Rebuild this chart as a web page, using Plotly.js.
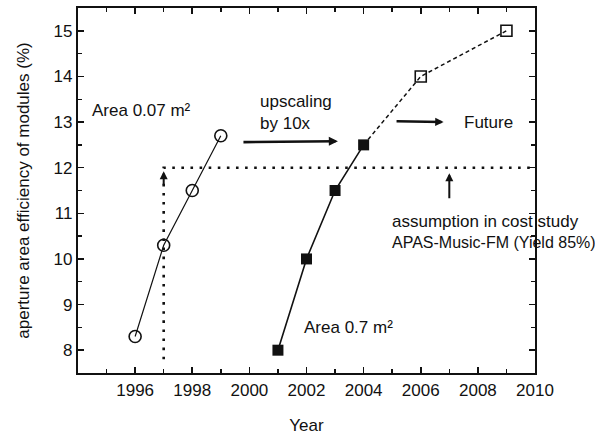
<!DOCTYPE html>
<html>
<head>
<meta charset="utf-8">
<script src="https://cdn.plot.ly/plotly-3.0.1.min.js"></script>
<style>html,body{margin:0;padding:0;background:#fff;}#chart{width:595px;height:435px;}</style>
</head>
<body>
<div id="chart"></div>
<script>
// Data
const yearsSmall = [1996, 1997, 1998, 1999];
const effSmall = [8.3, 10.3, 11.5, 12.7];
const yearsLarge = [2001, 2002, 2003, 2004];
const effLarge = [8.0, 10.0, 11.5, 12.5];
const yearsFuture = [2006, 2009];
const effFuture = [14.0, 15.0];
const assumptionYears = [1997, 1997, 2010];
const assumptionEff = [7.8, 12, 12];
const xTickVals = [1996, 1998, 2000, 2002, 2004, 2006, 2008, 2010];
const xTickText = ['1996', '1998', '2000', '2002', '2004', '2006', '2008', '2010'];
const yTickVals = [8, 9, 10, 11, 12, 13, 14, 15];
const yTickText = ['8', '9', '10', '11', '12', '13', '14', '15'];

const ink = '#111111';
const font = {family: 'Liberation Sans, Arial, sans-serif', size: 17, color: ink};
const smallFont = {family: 'Liberation Sans, Arial, sans-serif', size: 16, color: ink};

const traces = [
  {x: assumptionYears, y: assumptionEff, mode: 'lines', line: {color: ink, width: 2.6, dash: '2.6px,6.5px'}, hoverinfo: 'skip'},
  {x: [yearsLarge[yearsLarge.length - 1]].concat(yearsFuture), y: [effLarge[effLarge.length - 1]].concat(effFuture),
   mode: 'lines', line: {color: ink, width: 1.5, dash: '4px,3px'}},
  {x: yearsSmall, y: effSmall, mode: 'lines+markers', line: {color: ink, width: 1.2},
   marker: {symbol: 'circle-open', size: 12, color: ink, line: {width: 1.6, color: ink}}},
  {x: yearsLarge, y: effLarge, mode: 'lines+markers', line: {color: ink, width: 1.6},
   marker: {symbol: 'square', size: 11, color: ink}},
  {x: yearsFuture, y: effFuture, mode: 'markers',
   marker: {symbol: 'square-open', size: 11, color: ink, line: {width: 1.6, color: ink}}}
];

const ann = (o) => Object.assign({showarrow: false, font: font, xref: 'x', yref: 'y', xanchor: 'left', align: 'left'}, o);
const arrow = (x, y, ax, ay, w, head, size) => ({x: x, y: y, ax: ax, ay: ay, xref: 'x', yref: 'y', axref: 'x', ayref: 'y',
  showarrow: true, arrowhead: head, arrowsize: size, arrowwidth: w, arrowcolor: ink, text: ''});

const layout = {
  width: 595, height: 435,
  margin: {l: 78, r: 60, t: 8, b: 62},
  paper_bgcolor: '#fff', plot_bgcolor: '#fff',
  showlegend: false,
  font: font,
  xaxis: {
    range: [1994, 2010], tickmode: 'array', tickvals: xTickVals, ticktext: xTickText,
    ticks: 'inside', ticklen: 6, tickwidth: 1.6, tickcolor: ink,
    minor: {tickmode: 'linear', tick0: 1994, dtick: 1, ticks: 'inside', ticklen: 4, tickwidth: 1.4, tickcolor: ink},
    showline: true, linewidth: 2.2, linecolor: ink, mirror: 'allticks',
    showgrid: false, zeroline: false, tickfont: font,
    title: {text: 'Year', font: font, standoff: 22}
  },
  yaxis: {
    range: [7.5, 15.5], tickmode: 'array', tickvals: yTickVals, ticktext: yTickText,
    ticks: 'inside', ticklen: 6, tickwidth: 1.6, tickcolor: ink,
    minor: {tickmode: 'linear', tick0: 7.5, dtick: 0.5, ticks: 'inside', ticklen: 4, tickwidth: 1.4, tickcolor: ink},
    showline: true, linewidth: 2.2, linecolor: ink, mirror: 'allticks',
    showgrid: false, zeroline: false, tickfont: font,
    title: {text: 'aperture area efficiency of modules (%)', font: font, standoff: 20}
  },
  annotations: [
    ann({x: 1994.42, y: 13.26, text: 'Area 0.07 m²'}),
    ann({x: 2000.3, y: 13.22, text: 'upscaling<br>by 10x'}),
    ann({x: 2007.45, y: 13.0, text: 'Future'}),
    ann({x: 2001.84, y: 8.5, text: 'Area 0.7 m²'}),
    ann({x: 2004.92, y: 10.82, text: 'assumption in cost study'}),
    ann({x: 2004.92, y: 10.36, text: 'APAS-Music-FM (Yield 85%)', font: smallFont}),
    arrow(2003.1, 12.58, 1999.74, 12.56, 2.6, 2, 0.7),
    arrow(2006.8, 13.0, 2005.1, 13.02, 2.4, 2, 0.7),
    arrow(2007, 11.88, 2007, 11.3, 2, 2, 0.8),
    arrow(1997, 11.92, 1997, 11.6, 2, 2, 0.8)
  ]
};

Plotly.newPlot('chart', traces, layout, {staticPlot: true, displayModeBar: false});
</script>
</body>
</html>
